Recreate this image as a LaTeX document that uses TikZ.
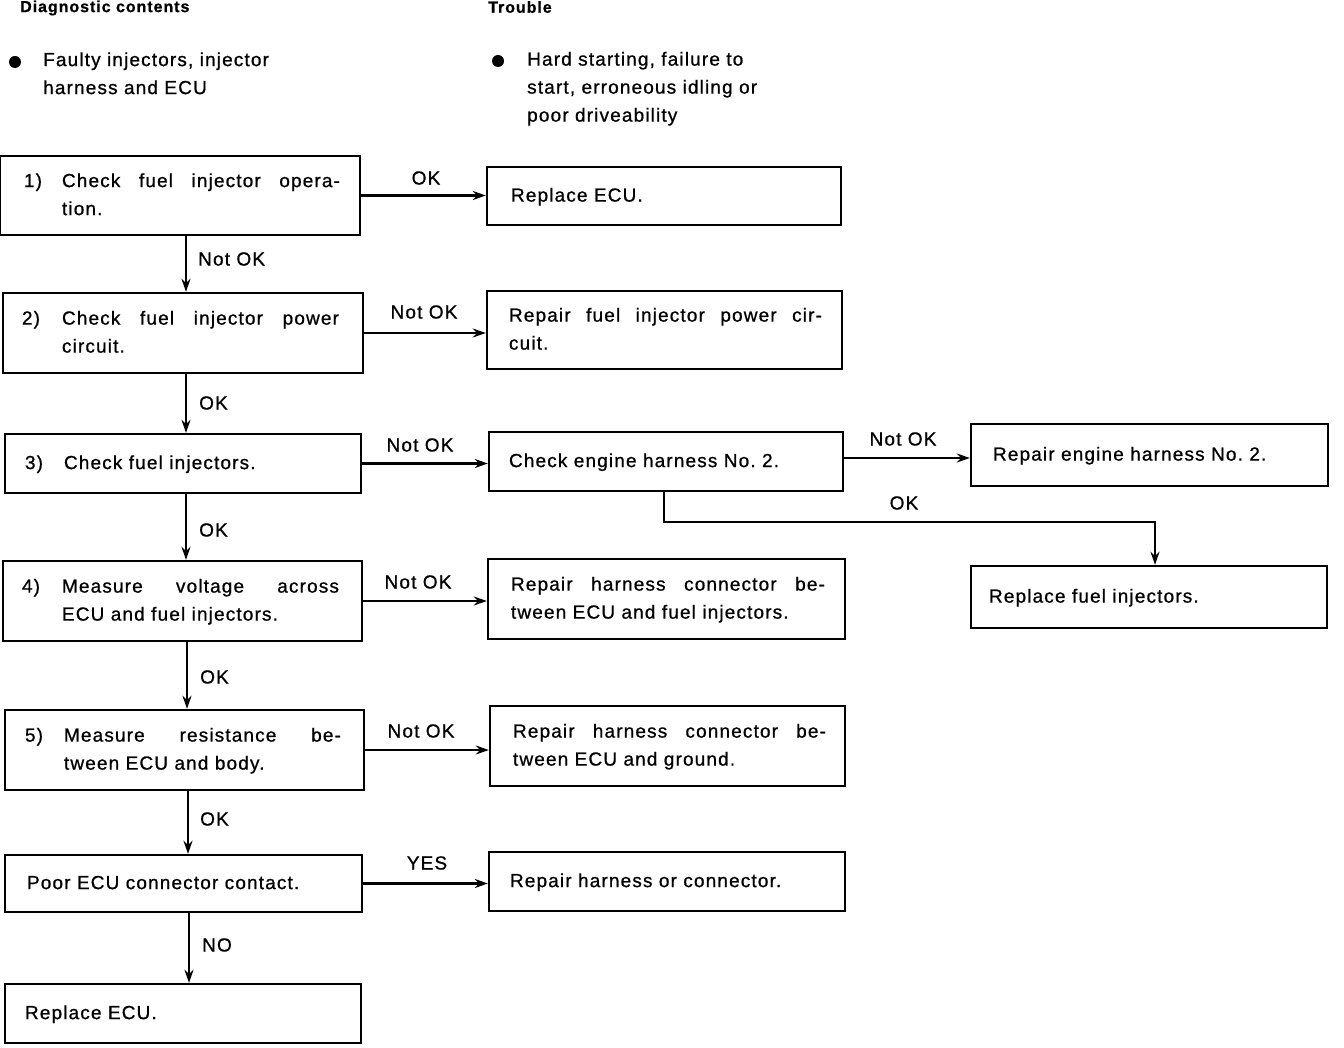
\documentclass[tikz,border=0pt]{standalone}
\usepackage{fontspec}
\setmainfont{Liberation Sans}[LetterSpace=6,FakeBold=0.8]
\usetikzlibrary{arrows.meta,calc}
\frenchspacing
\newcommand{\fs}{\fontsize{19}{28}\selectfont}
\newcommand{\hfs}{\fontsize{16}{18}\selectfont\bfseries}
\newcommand{\bxt}[3]{\makebox[#1][l]{\hspace*{#2}\begin{tabular}{@{}l@{}}#3\end{tabular}}}
\newcommand{\jl}[2]{\makebox[#1][s]{#2}}
\tikzset{
  bx/.style={draw, line width=2.4pt, inner sep=0pt, font=\fs},
  arr/.style={line width=2.2pt, -{Stealth[length=13pt,width=9pt]}},
  lbl/.style={font=\fs, inner sep=0pt},
  hdr/.style={font=\hfs, inner sep=0pt, anchor=west},
}
\begin{document}
\begin{tikzpicture}[x=1pt,y=-1pt]
\useasboundingbox (0,0) rectangle (1344,1048);
% header
\node[hdr] (h1) at (20,8) {Diagnostic contents};
\node[hdr] (h2) at (488,7) {Trouble};
\fill (15,62) circle (6pt);
\fill (498,61) circle (6pt);
\node[lbl, anchor=west] (t1) at (43,74.5) {\begin{tabular}{@{}l@{}}Faulty injectors, injector\\harness and ECU\end{tabular}};
\node[lbl, anchor=west] (t2) at (527,88) {\begin{tabular}{@{}l@{}}Hard starting, failure to\\start, erroneous idling or\\poor driveability\end{tabular}};
% left column
\node[bx, minimum width=360pt, minimum height=79pt] (b1) at (180,195.5)
  {\bxt{360pt}{24pt}{\makebox[38pt][l]{1)}\jl{278pt}{Check fuel injector opera-}\\\hspace*{38pt}tion.}};
\node[bx, minimum width=360pt, minimum height=80pt] (b2) at (183,333)
  {\bxt{360pt}{19pt}{\makebox[40pt][l]{2)}\jl{277pt}{Check fuel injector power}\\\hspace*{40pt}circuit.}};
\node[bx, minimum width=356pt, minimum height=59pt] (b3) at (183,463.5)
  {\bxt{356pt}{20pt}{\makebox[39pt][l]{3)}Check fuel injectors.}};
\node[bx, minimum width=359pt, minimum height=80pt] (b4) at (182.5,601)
  {\bxt{359pt}{19pt}{\makebox[40pt][l]{4)}\jl{277pt}{Measure voltage across}\\\hspace*{40pt}ECU and fuel injectors.}};
\node[bx, minimum width=359pt, minimum height=80pt] (b5) at (184.5,750)
  {\bxt{359pt}{20pt}{\makebox[39pt][l]{5)}\jl{277pt}{Measure resistance be-}\\\hspace*{39pt}tween ECU and body.}};
\node[bx, minimum width=357pt, minimum height=57pt] (b6) at (183.5,883.5)
  {\bxt{357pt}{22pt}{Poor ECU connector contact.}};
\node[bx, minimum width=356pt, minimum height=59pt] (b7) at (183,1013.5)
  {\bxt{356pt}{20pt}{Replace ECU.}};
% right column
\node[bx, minimum width=354pt, minimum height=58pt] (r1) at (664,196)
  {\bxt{354pt}{24pt}{Replace ECU.}};
\node[bx, minimum width=355pt, minimum height=78pt] (r2) at (664.5,330)
  {\bxt{355pt}{22pt}{\jl{313pt}{Repair fuel injector power cir-}\\cuit.}};
\node[bx, minimum width=354pt, minimum height=59pt] (r3) at (666,461.5)
  {\bxt{354pt}{20pt}{Check engine harness No. 2.}};
\node[bx, minimum width=357pt, minimum height=62pt] (r3b) at (1149.5,455)
  {\bxt{357pt}{22pt}{Repair engine harness No. 2.}};
\node[bx, minimum width=356pt, minimum height=62pt] (r3c) at (1149,597)
  {\bxt{356pt}{18pt}{Replace fuel injectors.}};
\node[bx, minimum width=357pt, minimum height=80pt] (r4) at (666.5,599)
  {\bxt{357pt}{23pt}{\jl{314pt}{Repair harness connector be-}\\tween ECU and fuel injectors.}};
\node[bx, minimum width=355pt, minimum height=80pt] (r5) at (667.5,746)
  {\bxt{355pt}{23pt}{\jl{313pt}{Repair harness connector be-}\\tween ECU and ground.}};
\node[bx, minimum width=356pt, minimum height=59pt] (r6) at (667,881.5)
  {\bxt{356pt}{21pt}{Repair harness or connector.}};
% vertical arrow columns
\coordinate (va) at (186,0);
\coordinate (vb) at (187,0);
\coordinate (vc) at (188,0);
\coordinate (vd) at (189,0);
\draw[arr] (b1.south -| va) -- (b2.north -| va);
\draw[arr] (b2.south -| va) -- (b3.north -| va);
\draw[arr] (b3.south -| va) -- (b4.north -| va);
\draw[arr] (b4.south -| vb) -- (b5.north -| vb);
\draw[arr] (b5.south -| vc) -- (b6.north -| vc);
\draw[arr] (b6.south -| vd) -- (b7.north -| vd);
% horizontal arrows
\draw[arr] (b1.east) -- (b1.east -| r1.west);
\draw[arr] (b2.east) -- (b2.east -| r2.west);
\draw[arr] (b3.east) -- (b3.east -| r3.west);
\draw[arr] (b4.east) -- (b4.east -| r4.west);
\draw[arr] (b5.east) -- (b5.east -| r5.west);
\draw[arr] (b6.east) -- (b6.east -| r6.west);
\coordinate (ny) at (0,458);
\draw[arr] (r3.east |- ny) -- (r3b.west |- ny);
\coordinate (tA) at (664,522);
\coordinate (tB) at (1155,522);
\draw[arr] (r3.south -| tA) -- (tA) -- (tB) -- (tB |- r3c.north);
% labels
\node[lbl] (l1) at (426,178) {OK};
\node[lbl, anchor=west] (l2) at (198,259) {Not OK};
\node[lbl] (l3) at (424,312) {Not OK};
\node[lbl, anchor=west] (l4) at (199,403) {OK};
\node[lbl] (l5) at (420,445) {Not OK};
\node[lbl] (l6) at (903,439) {Not OK};
\node[lbl] (l7) at (904,503) {OK};
\node[lbl, anchor=west] (l8) at (199,530) {OK};
\node[lbl] (l9) at (418,582) {Not OK};
\node[lbl, anchor=west] (l10) at (200,677) {OK};
\node[lbl] (l11) at (421,731) {Not OK};
\node[lbl, anchor=west] (l12) at (200,819) {OK};
\node[lbl] (l13) at (427,863) {YES};
\node[lbl, anchor=west] (l14) at (202,945) {NO};
\end{tikzpicture}
\end{document}
